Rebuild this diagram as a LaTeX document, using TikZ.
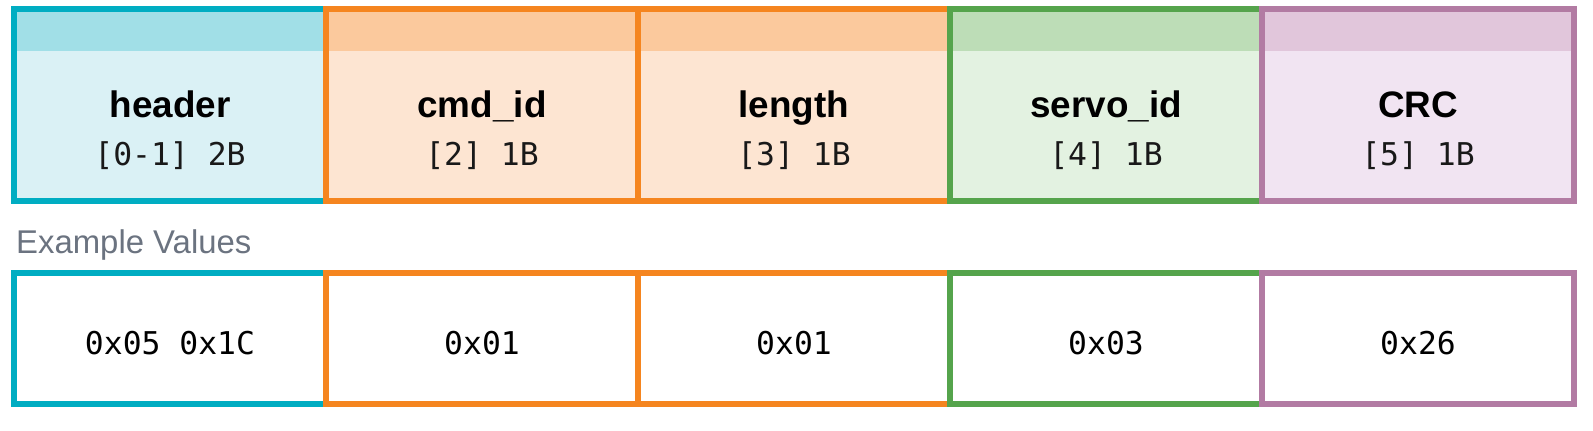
\documentclass[tikz,border=0pt]{standalone}
\usepackage{fontspec}
\setmainfont{Liberation Sans}
\newfontfamily\monofont{DejaVu Sans Mono}
\definecolor{tealc}{HTML}{00ADC2}
\definecolor{tealband}{HTML}{A1DFE7}
\definecolor{tealfill}{HTML}{DAF1F5}
\definecolor{orangec}{HTML}{F5851F}
\definecolor{orangeband}{HTML}{FBC99D}
\definecolor{orangefill}{HTML}{FDE5D2}
\definecolor{greenc}{HTML}{55A44C}
\definecolor{greenband}{HTML}{BDDDB7}
\definecolor{greenfill}{HTML}{E3F2E1}
\definecolor{purplec}{HTML}{B27BA3}
\definecolor{purpleband}{HTML}{E1C6DB}
\definecolor{purplefill}{HTML}{F1E4F2}
\definecolor{labelgray}{HTML}{6B7380}
\begin{document}
\begin{tikzpicture}[x=1bp,y=1bp,
  fieldbox/.style n args={3}{draw=#1, fill=#2, line width=6bp, rectangle,
    minimum width=312bp, minimum height=192bp, inner sep=0pt,
    path picture={\fill[#3] (path picture bounding box.north west) rectangle ([yshift=-42bp]path picture bounding box.north east);}},
  valbox/.style={draw=#1, fill=white, line width=6bp, rectangle,
    minimum width=312bp, minimum height=131bp, inner sep=0pt},
  fieldname/.style={anchor=base, inner sep=0pt, font=\fontsize{37}{40}\selectfont\bfseries},
  fieldpos/.style={anchor=base, inner sep=0pt, font=\fontsize{31.5}{36}\selectfont\monofont, text=black!90},
  valtext/.style={anchor=base, inner sep=0pt, font=\fontsize{31.5}{36}\selectfont\monofont},
  sectlabel/.style={anchor=base west, inner sep=0pt, font=\fontsize{33}{36}\selectfont, text=labelgray}
]
\useasboundingbox (0,0) rectangle (1593,-430);
% top row
\node[fieldbox={tealc}{tealfill}{tealband}] (f1) at (170,-105) {};
\node[fieldbox={orangec}{orangefill}{orangeband}] (f2) at (482,-105) {};
\node[fieldbox={orangec}{orangefill}{orangeband}] (f3) at (794,-105) {};
\node[fieldbox={greenc}{greenfill}{greenband}] (f4) at (1106,-105) {};
\node[fieldbox={purplec}{purplefill}{purpleband}] (f5) at (1418,-105) {};
\node[fieldname] (n1) at (170,-117) {header};
\node[fieldname] (n2) at (482,-117) {cmd\_id};
\node[fieldname] (n3) at (794,-117) {length};
\node[fieldname] (n4) at (1106,-117) {servo\_id};
\node[fieldname] (n5) at (1418,-117) {CRC};
\node[fieldpos] (p1) at (170,-165) {[0-1] 2B};
\node[fieldpos] (p2) at (482,-165) {[2] 1B};
\node[fieldpos] (p3) at (794,-165) {[3] 1B};
\node[fieldpos] (p4) at (1106,-165) {[4] 1B};
\node[fieldpos] (p5) at (1418,-165) {[5] 1B};
% label
\node[sectlabel] (lab) at (16,-253) {Example Values};
% bottom row
\node[valbox=tealc] (v1) at (170,-338.5) {};
\node[valbox=orangec] (v2) at (482,-338.5) {};
\node[valbox=orangec] (v3) at (794,-338.5) {};
\node[valbox=greenc] (v4) at (1106,-338.5) {};
\node[valbox=purplec] (v5) at (1418,-338.5) {};
\node[valtext] (t1) at (170,-354) {0x05 0x1C};
\node[valtext] (t2) at (482,-354) {0x01};
\node[valtext] (t3) at (794,-354) {0x01};
\node[valtext] (t4) at (1106,-354) {0x03};
\node[valtext] (t5) at (1418,-354) {0x26};
\end{tikzpicture}
\end{document}
